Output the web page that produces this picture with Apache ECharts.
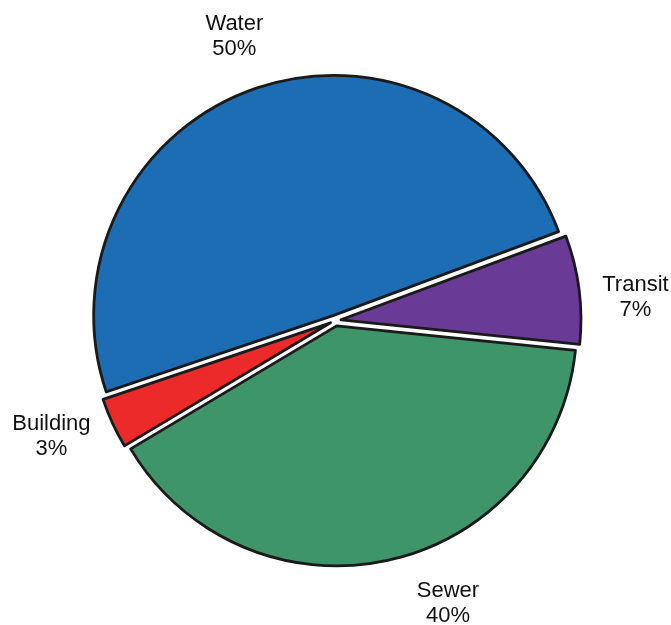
<!DOCTYPE html>
<html>
<head>
<meta charset="utf-8">
<script src="https://cdn.jsdelivr.net/npm/echarts@6/dist/echarts.min.js"></script>
<style>
  html, body { margin: 0; padding: 0; background: #ffffff; }
  #chart { width: 671px; height: 625px; }
</style>
</head>
<body>
<div id="chart"></div>
<script>
// ---- data ----
const categories = ['Water', 'Transit', 'Sewer', 'Building'];
const shares = [49.5, 7.3, 39.8, 3.4];

// ---- styling ----
const colors = ['#1c6db4', '#6a3b96', '#3e956a', '#ec2a2a'];
const CX = 335.5, CY = 320.5, R = 240, START = 198.6;
const LABEL_DIST = 303;
const labelAngleNudge = [0, -2.5, 9.3, -2.9];
const labelDistNudge = [0, -2, 0, 3];

const total = shares.reduce((a, b) => a + b, 0);
function midAngle(i) {
  let acc = 0;
  for (let k = 0; k < i; k++) acc += shares[k];
  const a0 = START - acc / total * 360;
  const a1 = START - (acc + shares[i]) / total * 360;
  return (a0 + a1) / 2;
}

const chart = echarts.init(document.getElementById('chart'), null, { renderer: 'canvas' });
chart.setOption({
  animation: false,
  backgroundColor: '#ffffff',
  series: [{
    type: 'pie',
    center: [CX, CY],
    radius: [0, R],
    startAngle: START,
    clockwise: true,
    selectedMode: 'multiple',
    selectedOffset: 5.5,
    emphasis: { disabled: true },
    itemStyle: { borderColor: '#1a1a1a', borderWidth: 2.8 },
    select: { itemStyle: { borderColor: '#1a1a1a', borderWidth: 2.8 } },
    label: { show: false },
    labelLine: { show: false },
    data: categories.map((name, i) => ({
      name: name,
      value: shares[i],
      selected: true,
      itemStyle: { color: colors[i] }
    }))
  }, {
    // invisible ring that carries the labels around the pie
    type: 'pie',
    silent: true,
    center: [CX, CY],
    radius: [LABEL_DIST - 3, LABEL_DIST + 3],
    startAngle: START,
    clockwise: true,
    percentPrecision: 0,
    emphasis: { disabled: true },
    itemStyle: { color: 'rgba(0,0,0,0)', borderWidth: 0 },
    label: {
      show: true,
      position: 'inside',
      formatter: '{b}\n{d}%',
      fontFamily: 'Liberation Sans, Arial, sans-serif',
      fontSize: 22,
      lineHeight: 25,
      color: '#111111',
      rotate: 0
    },
    labelLine: { show: false },
    labelLayout: function (params) {
      const i = params.dataIndex;
      const a = (midAngle(i) + labelAngleNudge[i]) * Math.PI / 180;
      const d = LABEL_DIST + labelDistNudge[i];
      return {
        x: CX + d * Math.cos(a),
        y: CY - d * Math.sin(a) + 2,
        align: 'center',
        verticalAlign: 'middle'
      };
    },
    data: categories.map((name, i) => ({ name: name, value: shares[i] }))
  }]
});
</script>
</body>
</html>
